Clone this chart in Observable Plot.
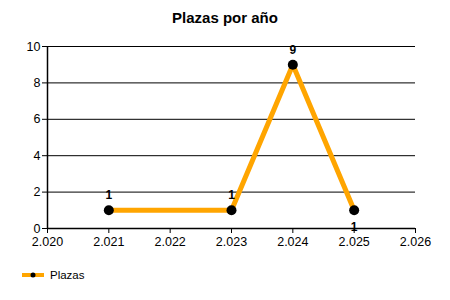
<!DOCTYPE html>
<html>
<head>
<meta charset="utf-8">
<script src="https://cdn.jsdelivr.net/npm/d3@7"></script>
<script src="https://cdn.jsdelivr.net/npm/@observablehq/plot@0.6"></script>
<style>
  body { margin: 0; background: #fff; font-family: "Liberation Sans", Arial, sans-serif; }
  #wrap { position: relative; width: 450px; height: 300px; }
  #title { position: absolute; top: 9px; left: 0; width: 450px; text-align: center; font-weight: bold; font-size: 15px; color: #000; }
  #legend { position: absolute; top: 269px; left: 22px; font-size: 11.5px; color: #000; display: flex; align-items: center; }
  #legend svg { margin-right: 6px; }
</style>
</head>
<body>
<div id="wrap">
  <div id="chart"></div>
  <div id="title">Plazas por año</div>
  <div id="legend"><svg width="22" height="10"><line x1="0" y1="5" x2="22" y2="5" stroke="#FFA500" stroke-width="4"/><circle cx="11" cy="5" r="2.5" fill="#000"/></svg><span>Plazas</span></div>
</div>
<script>
const years = [2021, 2023, 2024, 2025];
const plazas = [1, 1, 9, 1];
const labelPos = ["above", "above", "above", "below"];
const xTicks = [2020, 2021, 2022, 2023, 2024, 2025, 2026];
const yTicks = [0, 2, 4, 6, 8, 10];

const data = years.map((y, i) => ({year: y, value: plazas[i], pos: labelPos[i]}));
const fmt = d => d3.format(",")(d).replace(/,/g, ".");

const chart = Plot.plot({
  width: 450,
  height: 300,
  marginLeft: 47,
  marginRight: 35,
  marginTop: 46,
  marginBottom: 72,
  style: {fontFamily: "'Liberation Sans', Arial, sans-serif", fontSize: "12px", color: "#000", background: "#fff"},
  x: {domain: [2020, 2026], ticks: xTicks, tickFormat: fmt, label: null},
  y: {domain: [0, 10], ticks: yTicks, label: null},
  marks: [
    Plot.ruleY(yTicks.filter(d => d > 0), {x1: 2020, x2: 2026, stroke: "#000", strokeWidth: 1}),
    Plot.axisX({ticks: xTicks, tickFormat: fmt, tickSize: 5, tickPadding: 4, stroke: "#000", strokeOpacity: 1, fontSize: 12.5}),
    Plot.axisY({ticks: yTicks, tickSize: 5, tickPadding: 2, stroke: "#000", strokeOpacity: 1, fontSize: 12.5}),
    Plot.ruleY([0], {x1: 2020, x2: 2026, stroke: "#000", strokeWidth: 1.5}),
    Plot.ruleX([2020], {y1: 0, y2: 10, stroke: "#000", strokeWidth: 1.5}),
    Plot.line(data, {x: "year", y: "value", stroke: "#FFA500", strokeWidth: 5, strokeLinejoin: "miter"}),
    Plot.dot(data, {x: "year", y: "value", r: 5, fill: "#000"}),
    Plot.text(data.filter(d => d.pos === "above"), {x: "year", y: "value", text: d => String(d.value), dy: -15, fontWeight: "bold", fontSize: 12, fill: "#000"}),
    Plot.text(data.filter(d => d.pos === "below"), {x: "year", y: "value", text: d => String(d.value), dy: 17, fontWeight: "bold", fontSize: 12, fill: "#000"})
  ]
});
document.getElementById("chart").appendChild(chart);
</script>
</body>
</html>
